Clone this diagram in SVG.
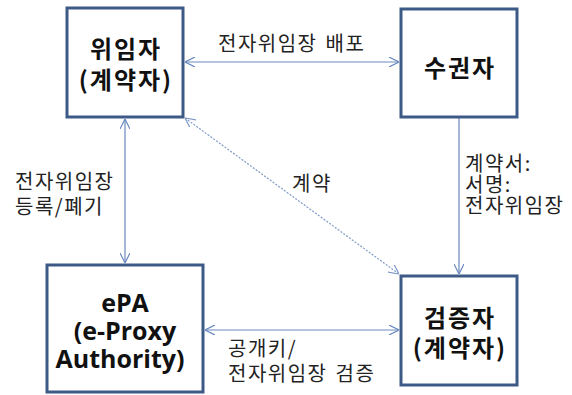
<svg xmlns="http://www.w3.org/2000/svg" width="572" height="395" viewBox="0 0 572 395">
<defs>
<marker id="arr" viewBox="0 0 10 10" refX="10" refY="5" markerWidth="10" markerHeight="10" markerUnits="userSpaceOnUse" orient="auto-start-reverse">
<path d="M0,0 L10,5 L0,10" fill="none" stroke="#6A89BE" stroke-width="1.2"/>
</marker>
</defs>
<style>
.box{fill:#fff;stroke:#3D5A86;stroke-width:3}
.lbl{font-family:"Noto Sans CJK KR","Open Sans",sans-serif;font-weight:bold;font-size:24px;fill:#111;text-anchor:middle;letter-spacing:2px}
.lat{font-family:"Open Sans","Noto Sans CJK KR",sans-serif;font-weight:bold;font-size:25px;fill:#111;text-anchor:middle}
.t{font-family:"Noto Sans CJK KR",sans-serif;font-size:20px;fill:#222;letter-spacing:1.5px;word-spacing:2px}
.c{fill:none;stroke:#6A89BE;stroke-width:1.2}
</style>
<rect width="572" height="395" fill="#fff"/>
<g id="connectors">
<line class="c" x1="185" y1="62" x2="399" y2="62" marker-start="url(#arr)" marker-end="url(#arr)"/>
<line class="c" x1="125" y1="119" x2="125" y2="263" marker-start="url(#arr)" marker-end="url(#arr)"/>
<line class="c" x1="185" y1="118" x2="399" y2="274" stroke-dasharray="2,1.5" opacity="0.85" marker-start="url(#arr)" marker-end="url(#arr)"/>
<line class="c" x1="459" y1="118" x2="459" y2="274" marker-end="url(#arr)"/>
<line class="c" x1="205" y1="330" x2="399" y2="330" marker-start="url(#arr)" marker-end="url(#arr)"/>
</g>
<g id="delegator">
<rect class="box" x="67" y="8" width="116" height="109"/>
<text class="lbl" x="126" y="58">위임자</text>
<text class="lbl" x="126" y="89">(계약자)</text>
</g>
<g id="grantee">
<rect class="box" x="401" y="9" width="116" height="108"/>
<text class="lbl" x="460" y="77">수권자</text>
</g>
<g id="epa">
<rect class="box" x="47" y="265" width="156" height="127"/>
<text class="lat" x="125" y="312">ePA</text>
<text class="lat" x="125" y="340">(e-Proxy</text>
<text class="lat" x="120" y="368">Authority)</text>
</g>
<g id="verifier">
<rect class="box" x="401" y="276" width="116" height="109"/>
<text class="lbl" x="460" y="327">검증자</text>
<text class="lbl" x="460" y="357">(계약자)</text>
</g>
<g id="labels">
<text class="t" x="218" y="51">전자위임장 배포</text>
<text class="t" x="292" y="191">계약</text>
<text class="t" x="465" y="171">계약서:</text>
<text class="t" x="465" y="192">서명:</text>
<text class="t" x="465" y="213">전자위임장</text>
<text class="t" x="15" y="189">전자위임장</text>
<text class="t" x="15" y="214">등록/폐기</text>
<text class="t" x="228" y="356">공개키/</text>
<text class="t" x="228" y="381">전자위임장 검증</text>
</g>
</svg>
